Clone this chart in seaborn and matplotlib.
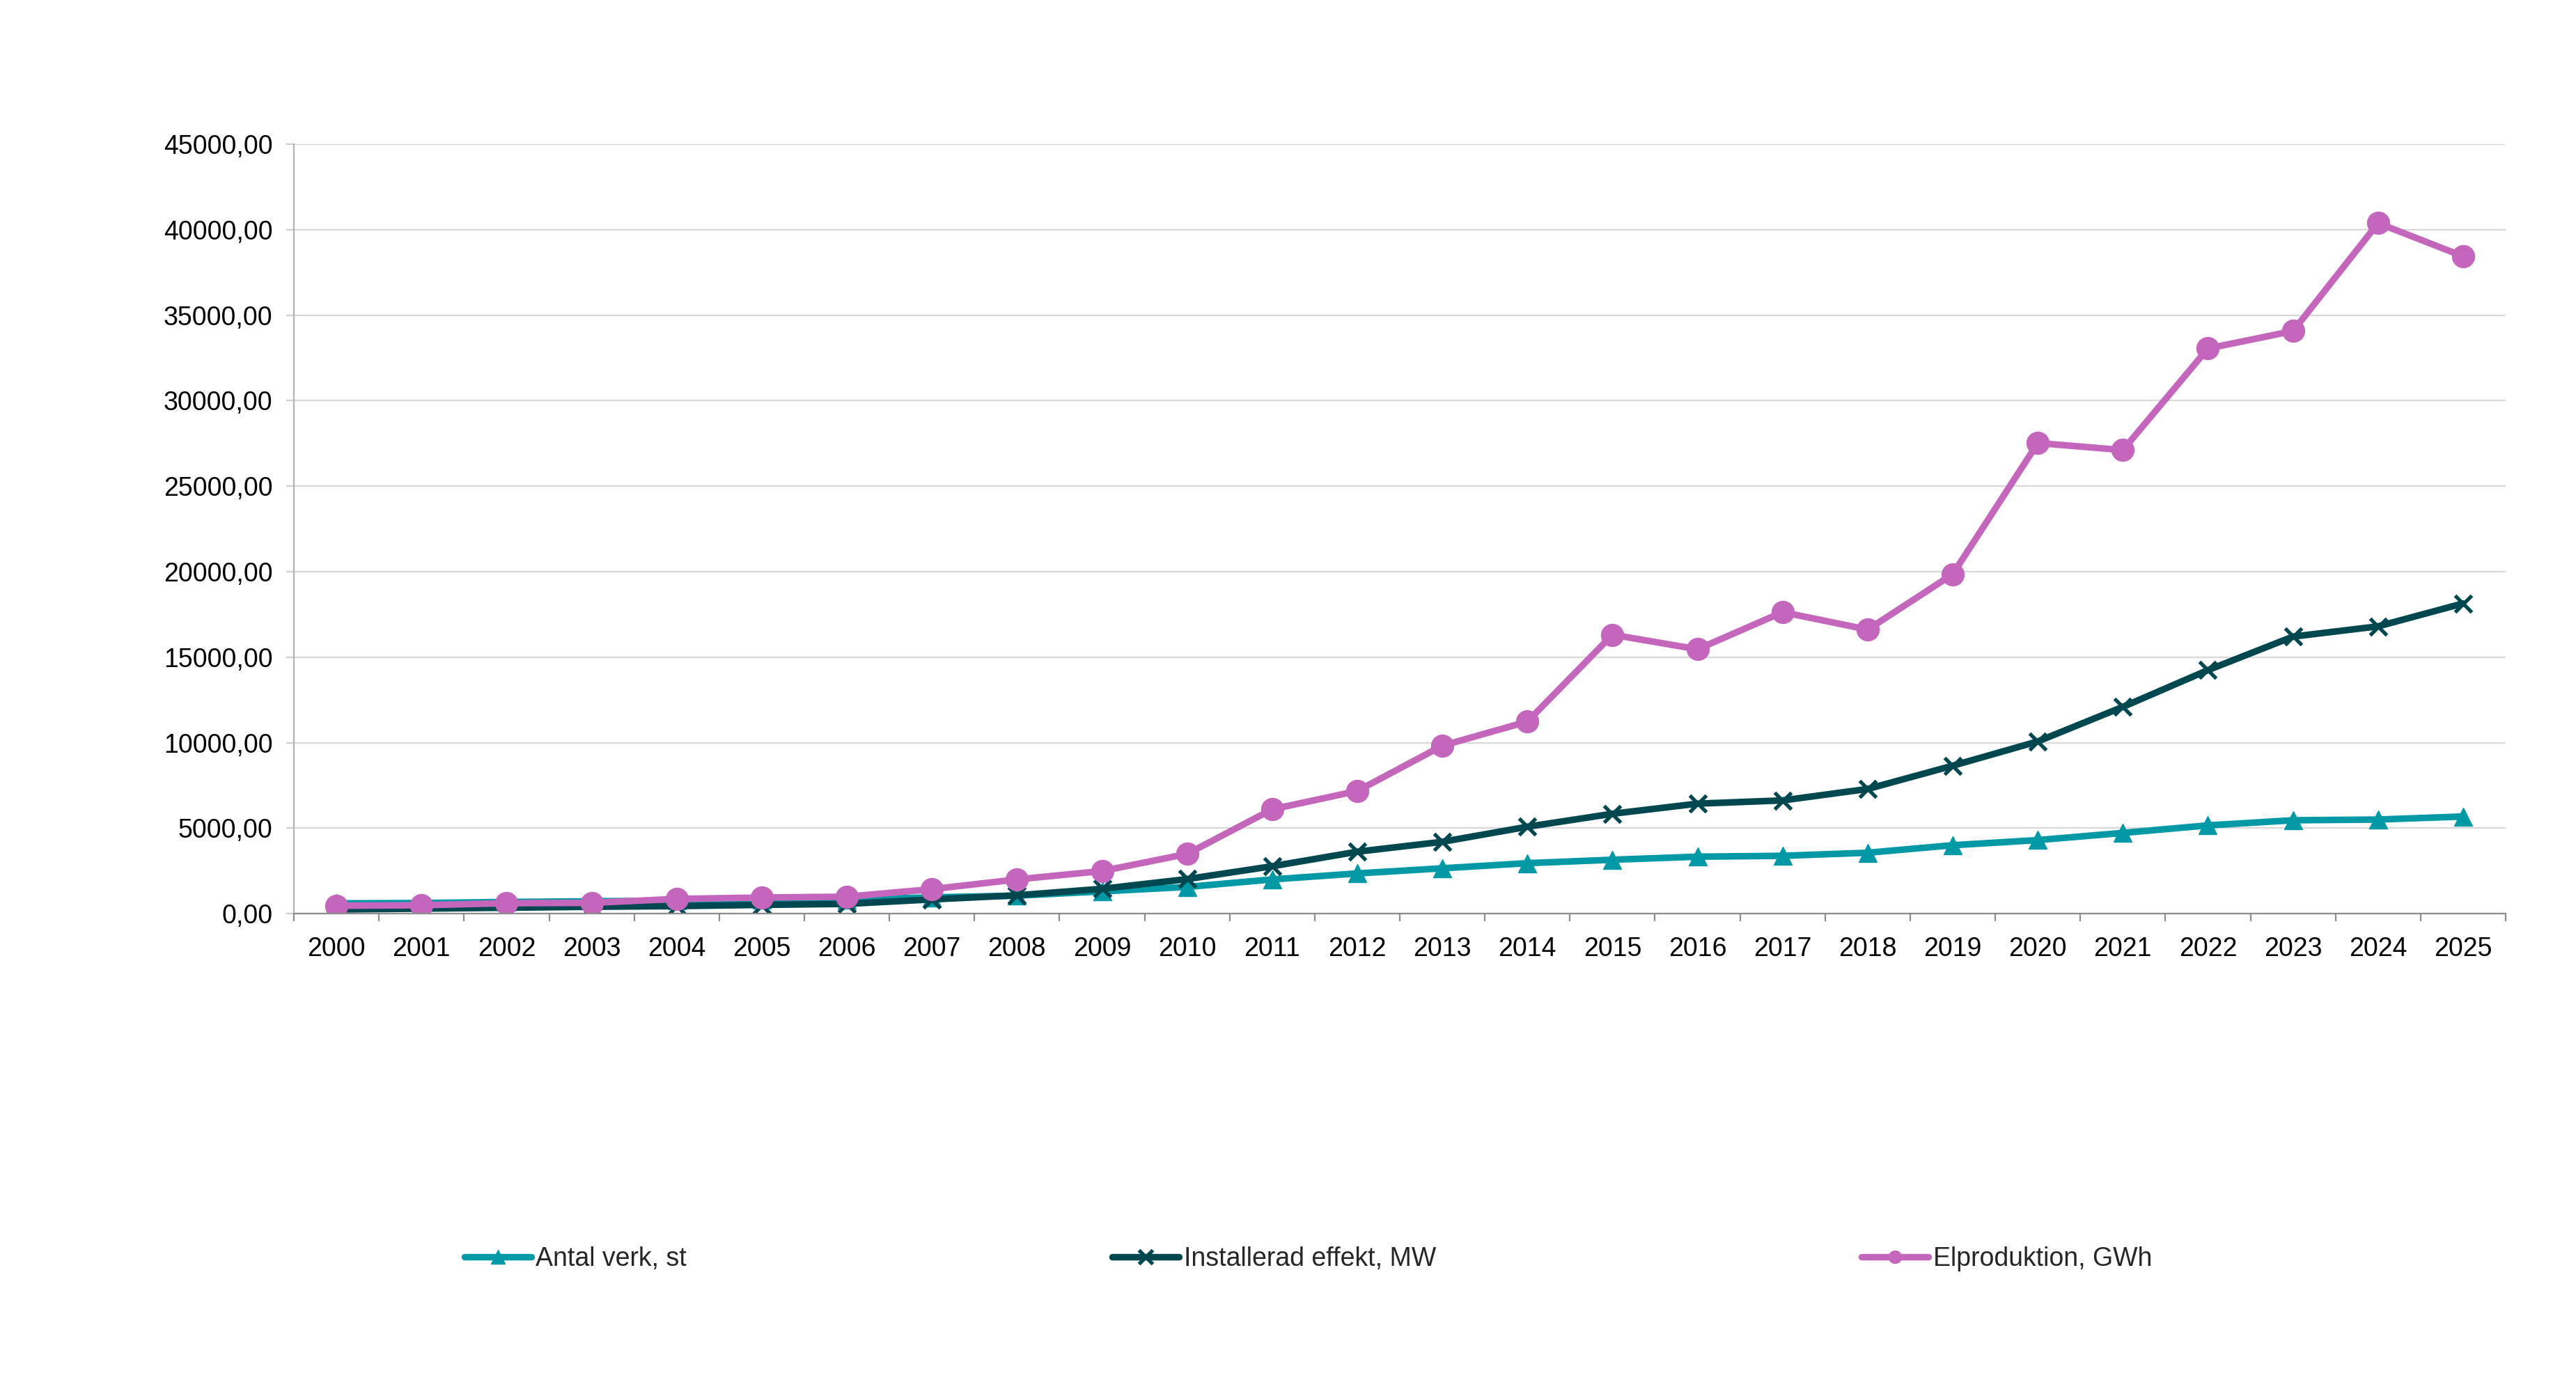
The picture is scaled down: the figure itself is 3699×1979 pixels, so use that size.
#!/usr/bin/env python

import numpy as np
import pandas as pd
import matplotlib
matplotlib.use('Agg')
import matplotlib.pyplot as plt
from matplotlib.ticker import FuncFormatter, MultipleLocator, FixedLocator
import seaborn as sns

years = list(range(2000, 2026))
antal_verk = [600, 620, 680, 720, 760, 800, 830, 950, 1050, 1300, 1560, 2000, 2350,
              2650, 2950, 3150, 3330, 3380, 3560, 4000, 4300, 4720, 5160, 5460, 5500, 5680]
installerad_effekt = [240, 290, 345, 400, 440, 510, 570, 830, 1070, 1450, 2020, 2770, 3620,
                      4200, 5080, 5840, 6430, 6620, 7290, 8650, 10070, 12090, 14240, 16200,
                      16800, 18140]
elproduktion = [460, 490, 610, 630, 860, 940, 990, 1430, 2000, 2490, 3490, 6100, 7170,
                9820, 11230, 16310, 15460, 17630, 16610, 19850, 27520, 27110, 33050, 34070,
                40380, 38440]

labels = ['Antal verk, st', 'Installerad effekt, MW', 'Elproduktion, GWh']
colors = ['#0099A5', '#00474F', '#C566BD']

sns.set_theme(style='white')
plt.rcParams['font.family'] = ['Liberation Sans', 'DejaVu Sans']

fig = plt.figure(figsize=(18.495, 9.895), dpi=200)
ax = fig.add_axes([0.1141, 0.3370, 0.9727 - 0.1141, 0.8954 - 0.3370])

# draw order: teal, dark, pink (pink on top)
series = [
    (antal_verk, '^', 9.5, 0.5),
    (installerad_effekt, 'x', 8.5, 1.9),
    (elproduktion, 'o', 11.5, 0.5),
]
for (vals, mk, ms, mew), lab, col in zip(series, labels, colors):
    sns.lineplot(x=years, y=vals, ax=ax, color=col, label=lab, linewidth=3.4,
                 marker=mk, markersize=ms, markeredgecolor=col, markerfacecolor=col,
                 markeredgewidth=mew, solid_joinstyle='round', solid_capstyle='round')

ax.set_xlim(1999.5, 2025.5)
ax.set_ylim(0, 45000)
ax.yaxis.set_major_locator(MultipleLocator(5000))
ax.yaxis.set_major_formatter(FuncFormatter(lambda v, p: f'{v:.2f}'.replace('.', ',')))
ax.set_xticks(years)
ax.set_xticklabels([str(y) for y in years])
ax.xaxis.set_minor_locator(FixedLocator(np.arange(1999.5, 2026, 1.0)))

ax.grid(axis='y', color='#d9d9d9', linewidth=0.8)
ax.grid(axis='x', visible=False)
ax.set_axisbelow(True)
for s in ['top', 'right']:
    ax.spines[s].set_visible(False)
ax.spines['left'].set_color('#b3b3b3')
ax.spines['bottom'].set_color('#8c8c8c')
ax.spines['left'].set_linewidth(0.8)
ax.spines['bottom'].set_linewidth(0.8)

ax.tick_params(axis='y', which='major', left=True, length=4, width=0.8, color='#d0d0d0',
               labelsize=13.5, pad=7, labelcolor='black')
ax.tick_params(axis='x', which='major', bottom=False, length=0, labelsize=13.5, pad=12,
               labelcolor='black')
ax.tick_params(axis='x', which='minor', bottom=True, length=4, width=0.8, color='#8c8c8c')
ax.set_xlabel('')
ax.set_ylabel('')

ax.get_legend().remove()
handles, labs = ax.get_legend_handles_labels()
leg = fig.legend(handles, labs, loc='center left', bbox_to_anchor=(667 / 3699, 1 - 1808 / 1979),
                 ncol=3, frameon=False, fontsize=13.5, handlelength=2.56, handletextpad=0.17,
                 columnspacing=16.3, borderpad=0, borderaxespad=0)
for h, ms in zip(leg.legend_handles, [7.5, 7, 6.5]):
    h.set_markersize(ms)
    h.set_solid_capstyle('round')

fig.savefig('out.png', dpi=200)
